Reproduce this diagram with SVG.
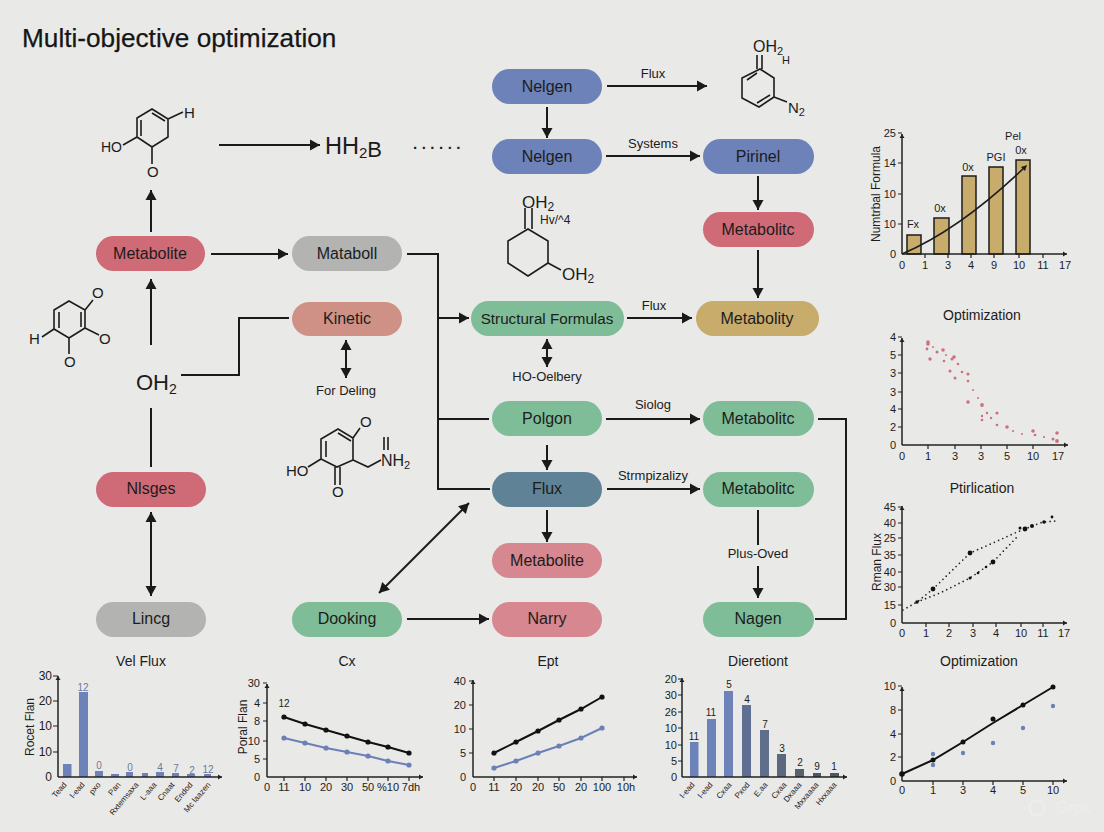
<svg xmlns="http://www.w3.org/2000/svg" width="1104" height="832" viewBox="0 0 1104 832">
<style>
text{font-family:"Liberation Sans",Arial,sans-serif;fill:#1c1c1c}
.n text{font-size:16px;text-anchor:middle}
.n rect{rx:17.5px;ry:17.5px}
.red{fill:#cf6b77}.gry{fill:#b3b3b2}.kin{fill:#cf9186}.blu{fill:#6c82b9}.grn{fill:#7fbd99}.tan{fill:#c8ac6c}.tea{fill:#5f8297}.pnk{fill:#d68790}
.c{fill:none;stroke:#1a1a1a;stroke-width:2}
.a{marker-end:url(#ah)}
.d{marker-end:url(#ah);marker-start:url(#ah)}
.lb{font-size:13px;text-anchor:middle}
.m{fill:none;stroke:#1c1c1c;stroke-width:1.6}
.mt{font-size:15px}
.ax{fill:none;stroke:#222;stroke-width:1.5;marker-end:url(#sa)}
.tk{fill:none;stroke:#222;stroke-width:1.2}
.tt{font-size:14px;text-anchor:middle}
.yl{font-size:11px;text-anchor:end}
.xl{font-size:11px;text-anchor:middle}
.vl{font-size:10px;text-anchor:middle}
.rl{font-size:8px;text-anchor:end}
.yt{font-size:12px;text-anchor:middle}
.k{fill:none;stroke:#111;stroke-width:2}
.b{fill:none;stroke:#6c80b8;stroke-width:2}
.kd{fill:#111}.bd{fill:#6c80b8}.rd{fill:#cf6f7e}
.bar{fill:#6c82b9}
.tb{fill:#c8ac6c;stroke:#1c1c1c;stroke-width:1.5}
.dot{fill:none;stroke:#222;stroke-width:1.7;stroke-dasharray:0 4.6;stroke-linecap:round}
.vb{fill:#6c78a0}
</style>
<defs>
<marker id="ah" markerUnits="userSpaceOnUse" markerWidth="11" markerHeight="12" refX="10" refY="6" orient="auto-start-reverse"><path d="M0,0.5 L10,6 L0,11.5 Z" fill="#1a1a1a"/></marker>
<marker id="sa" markerUnits="userSpaceOnUse" markerWidth="5" markerHeight="6" refX="4" refY="3" orient="auto"><path d="M0,0.5 L4,3 L0,5.5 Z" fill="#222"/></marker>
</defs>
<rect width="1104" height="832" fill="#e9e9e7"/>
<text x="22" y="47" font-size="26.2" style="fill:#161616;stroke:#161616;stroke-width:0.25">Multi-objective optimization</text>

<g id="connectors">
<path class="c a" d="M219,145H320"/>
<path class="c a" d="M151,232V190"/>
<path class="c a" d="M151,345V279"/>
<path class="c" d="M151,408V467"/>
<path class="c d" d="M151,512V596"/>
<path class="c a" d="M211,254H288"/>
<path class="c" d="M407,254H438V489H490"/>
<path class="c a" d="M438,318H469"/>
<path class="c" d="M438,419H489"/>
<path class="c" d="M181,375H239V318H289"/>
<path class="c d" d="M346,340V378"/>
<path class="c a" d="M607,86H707"/>
<path class="c a" d="M547,107V138"/>
<path class="c a" d="M606,156H700"/>
<path class="c a" d="M758,176V210"/>
<path class="c a" d="M758,250V298"/>
<path class="c a" d="M627,318H692"/>
<path class="c d" d="M547,339V367"/>
<path class="c a" d="M606,419H700"/>
<path class="c a" d="M547,445V470"/>
<path class="c a" d="M547,510V542"/>
<path class="c a" d="M607,489H700"/>
<path class="c" d="M758,510V545"/>
<path class="c a" d="M758,566V598"/>
<path class="c" d="M818,419H846V619H815"/>
<path class="c d" d="M379,593L469,503"/>
<path class="c a" d="M407,619H489"/>
<text class="lb" x="653" y="78">Flux</text>
<text class="lb" x="653" y="148">Systems</text>
<text class="lb" x="654" y="310">Flux</text>
<text class="lb" x="346" y="395">For Deling</text>
<text class="lb" x="547" y="381">HO-Oelbery</text>
<text class="lb" x="653" y="409">Siolog</text>
<text class="lb" x="653" y="480">Strmpizalizy</text>
<text class="lb" x="758" y="558">Plus-Oved</text>
</g>

<g id="n-metabolite1" class="n"><rect class="red" x="96" y="236" width="109" height="35"/><text x="150" y="259">Metabolite</text></g>
<g id="n-mataboll" class="n"><rect class="gry" x="292" y="236" width="110" height="35"/><text x="347" y="259">Mataboll</text></g>
<g id="n-kinetic" class="n"><rect class="kin" x="292" y="302" width="110" height="34"/><text x="347" y="324">Kinetic</text></g>
<g id="n-nelgen1" class="n"><rect class="blu" x="492" y="69" width="110" height="35"/><text x="547" y="92">Nelgen</text></g>
<g id="n-nelgen2" class="n"><rect class="blu" x="492" y="139" width="110" height="35"/><text x="547" y="162">Nelgen</text></g>
<g id="n-pirinel" class="n"><rect class="blu" x="703" y="139" width="111" height="35"/><text x="758" y="162">Pirinel</text></g>
<g id="n-metabolitc1" class="n"><rect class="red" x="703" y="212" width="111" height="35"/><text x="758" y="235">Metabolitc</text></g>
<g id="n-structural" class="n"><rect class="grn" x="471" y="301" width="153" height="35"/><text x="547" y="324" style="font-size:15.200px">Structural Formulas</text></g>
<g id="n-metabolity" class="n"><rect class="tan" x="696" y="301" width="123" height="35"/><text x="757" y="324">Metabolity</text></g>
<g id="n-polgon" class="n"><rect class="grn" x="492" y="401" width="110" height="35"/><text x="547" y="424">Polgon</text></g>
<g id="n-metabolitc2" class="n"><rect class="grn" x="703" y="401" width="111" height="35"/><text x="758" y="424">Metabolitc</text></g>
<g id="n-flux" class="n"><rect class="tea" x="492" y="472" width="110" height="35"/><text x="547" y="494">Flux</text></g>
<g id="n-metabolitc3" class="n"><rect class="grn" x="703" y="472" width="111" height="35"/><text x="758" y="494">Metabolitc</text></g>
<g id="n-metabolite2" class="n"><rect class="pnk" x="492" y="543" width="110" height="35"/><text x="547" y="566">Metabolite</text></g>
<g id="n-narry" class="n"><rect class="pnk" x="492" y="602" width="110" height="35"/><text x="547" y="624">Narry</text></g>
<g id="n-nagen" class="n"><rect class="grn" x="703" y="602" width="111" height="35"/><text x="758" y="624">Nagen</text></g>
<g id="n-dooking" class="n"><rect class="grn" x="292" y="602" width="110" height="35"/><text x="347" y="624">Dooking</text></g>
<g id="n-lincg" class="n"><rect class="gry" x="96" y="602" width="110" height="35"/><text x="151" y="624">Lincg</text></g>
<g id="n-nlsges" class="n"><rect class="red" x="96" y="472" width="110" height="35"/><text x="151" y="494">Nlsges</text></g>

<g id="mol-a">
<path class="m" d="M152,109L168,119V137L152,147L137,137V118ZM141,120V136M152,113L165,121M168,119L183,112M137,137L123,145M152,147V164"/>
<text class="mt" x="184" y="118">H</text><text class="mt" x="101" y="152" style="font-size:14px">HO</text><text class="mt" x="147" y="177">O</text>
<text x="325" y="154" font-size="23.500">HH<tspan font-size="15" dy="4">2</tspan><tspan dy="-1" font-size="22">B</tspan></text>
<text x="413" y="149" font-size="15" font-weight="bold" letter-spacing="4.500">......</text>
</g>
<g id="mol-b">
<path class="m" d="M69,301L85,310V328L69,338L54,329V310ZM59,312V328M81,312V327M85,310L93,300M85,328L99,335M69,338V354M54,329L42,337"/>
<text class="mt" x="92" y="298">O</text><text class="mt" x="99" y="344">O</text><text class="mt" x="64" y="367">O</text><text class="mt" x="29" y="344">H</text>
<text x="136" y="390" font-size="22">OH<tspan font-size="14" dy="4">2</tspan></text>
</g>
<g id="mol-c">
<path class="m" d="M760,69L774,78V97L759,107L742,98V78ZM757,55V69M762,55V69M747,80L757,73M757,103L770,95M774,97L787,102"/>
<text x="753" y="52" font-size="16">OH<tspan font-size="11" dy="3">2</tspan></text>
<text x="782" y="64" font-size="11">H</text>
<text x="788" y="113" font-size="15">N<tspan font-size="11" dy="3">2</tspan></text>
</g>
<g id="mol-d">
<path class="m" d="M528,229L548,241V263L528,276L508,263V241ZM525,208V229M532,208V229M548,263L561,270"/>
<text x="522" y="208" font-size="17">OH<tspan font-size="12" dy="3">2</tspan></text>
<text x="540" y="224" font-size="12">Hv/^4</text>
<text x="562" y="280" font-size="17">OH<tspan font-size="12" dy="3">2</tspan></text>
</g>
<g id="mol-e">
<path class="m" d="M338,429L353,438V460L337,467L321,459V439ZM326,441V457M338,433L351,441M353,438L360,428M321,459L308,467M335,467V485M340,467V485M353,460L368,467L381,460M384,437V450M388,437V450"/>
<text class="mt" x="360" y="427">O</text><text class="mt" x="286" y="476">HO</text><text class="mt" x="332" y="497">O</text>
<text x="381" y="466" font-size="16">NH<tspan font-size="11" dy="3">2</tspan></text>
</g>

<g id="chart-bars-top">
<path class="tb" d="M907,254V235H921V254ZM934,254V218H949V254ZM962,254V176H976V254ZM989,254V167H1003V254ZM1016,254V160H1030V254Z"/>
<path class="tk" d="M902,133H898M902,163H898M902,194H898M902,224H898M925,254V258M948,254V258M971,254V258M994,254V258M1019,254V258M1043,254V258"/>
<path class="ax" d="M902,254V134"/><path class="ax" d="M902,254H1067"/>
<path d="M902,254C935,240 975,215 1025,167" fill="none" stroke="#1c1c1c" stroke-width="1.6"/><path d="M1027,165l-2,6l-4,-4z" fill="#1c1c1c"/>
<g class="yl"><text x="896" y="137">25</text><text x="896" y="167">14</text><text x="896" y="198">10</text><text x="896" y="228">10</text><text x="896" y="258">0</text></g>
<g class="xl"><text x="902" y="269">0</text><text x="925" y="269">1</text><text x="948" y="269">3</text><text x="971" y="269">4</text><text x="994" y="269">9</text><text x="1019" y="269">10</text><text x="1043" y="269">11</text><text x="1065" y="269">17</text></g>
<g class="xl"><text x="913" y="228">Fx</text><text x="940" y="212">0x</text><text x="968" y="171">0x</text><text x="996" y="161">PGI</text><text x="1021" y="154">0x</text><text x="1013" y="140">Pel</text></g>
<text class="yt" transform="translate(880,194) rotate(-90)">Numtrbal Formula</text>
</g>

<g id="chart-scatter">
<text class="tt" x="982" y="320">Optimization</text>
<path class="tk" d="M902,337H898M902,355H898M902,373H898M902,392H898M902,409H898M902,427H898M928,445V449M955,445V449M981,445V449M1007,445V449M1033,445V449"/>
<path class="ax" d="M902,445V338"/><path class="ax" d="M902,445H1068"/>
<g class="yl"><text x="896" y="341">4</text><text x="896" y="359">5</text><text x="896" y="377">3</text><text x="896" y="396">3</text><text x="896" y="413">4</text><text x="896" y="431">2</text><text x="896" y="449">0</text></g>
<g class="xl"><text x="902" y="460">0</text><text x="928" y="460">1</text><text x="955" y="460">3</text><text x="981" y="460">3</text><text x="1007" y="460">5</text><text x="1033" y="460">10</text><text x="1058" y="460">17</text></g>
<g class="rd">
<circle cx="928" cy="342" r="1.8"/><circle cx="928" cy="344" r="1.8"/><circle cx="927" cy="349" r="1.4"/><circle cx="933" cy="347" r="1"/><circle cx="937" cy="352" r="1.5"/><circle cx="943" cy="350" r="1.8"/><circle cx="946" cy="355" r="1"/><circle cx="944" cy="361" r="1.3"/><circle cx="930" cy="359" r="1.7"/><circle cx="954" cy="357" r="1.8"/><circle cx="952" cy="359" r="1.5"/><circle cx="958" cy="364" r="1.3"/><circle cx="950" cy="371" r="1.5"/><circle cx="962" cy="372" r="1.3"/><circle cx="955" cy="378" r="1.5"/><circle cx="968" cy="374" r="1.6"/><circle cx="968" cy="381" r="1.3"/><circle cx="973" cy="390" r="1"/><circle cx="978" cy="398" r="1"/><circle cx="968" cy="402" r="1.8"/><circle cx="982" cy="405" r="1.9"/><circle cx="982" cy="416" r="1.2"/><circle cx="987" cy="413" r="1.2"/><circle cx="982" cy="420" r="1.3"/><circle cx="991" cy="418" r="1.2"/><circle cx="997" cy="413" r="1.6"/><circle cx="997" cy="425" r="1.3"/><circle cx="1007" cy="427" r="1.8"/><circle cx="1013" cy="431" r="1.1"/><circle cx="1022" cy="434" r="1"/><circle cx="1033" cy="431" r="1.8"/><circle cx="1035" cy="435" r="1.3"/><circle cx="1044" cy="437" r="1.1"/><circle cx="1057" cy="433" r="1.8"/><circle cx="1053" cy="439" r="1.5"/><circle cx="1057" cy="441" r="1.9"/>
</g>
</g>

<g id="chart-dotted">
<text class="tt" x="982" y="493">Ptirlication</text>
<path class="tk" d="M902,507H898M902,523H898M902,538H898M902,555H898M902,572H898M902,587H898M902,605H898M926,623V627M949,623V627M973,623V627M996,623V627M1021,623V627M1043,623V627"/>
<path class="ax" d="M902,623V506"/><path class="ax" d="M902,623H1067"/>
<g class="yl"><text x="896" y="511">45</text><text x="896" y="527">40</text><text x="896" y="542">25</text><text x="896" y="559">35</text><text x="896" y="576">40</text><text x="896" y="591">30</text><text x="896" y="609">15</text><text x="896" y="627">0</text></g>
<g class="xl"><text x="902" y="637">0</text><text x="926" y="637">1</text><text x="949" y="637">2</text><text x="973" y="637">3</text><text x="996" y="637">4</text><text x="1021" y="637">10</text><text x="1043" y="637">11</text><text x="1064" y="637">17</text></g>
<path class="dot" d="M903,610L917,602L933,589L970,553L993,543L1017,532L1025,529L1032,526L1043,522L1055,521"/>
<path class="dot" d="M917,602L940,593L970,578L993,562L1017,537"/>
<g class="kd"><circle cx="917" cy="602" r="1.8"/><circle cx="933" cy="589" r="2.4"/><circle cx="970" cy="553" r="2.4"/><circle cx="993" cy="562" r="2.4"/><circle cx="1025" cy="529" r="2.4"/><circle cx="1032" cy="526" r="2"/><circle cx="1044" cy="522" r="1.8"/><circle cx="970" cy="578" r="1.5"/><circle cx="978" cy="573" r="1.3"/><circle cx="986" cy="567" r="1.3"/><circle cx="1020" cy="528" r="1.5"/><circle cx="1052" cy="517" r="1.4"/></g>
<text class="yt" transform="translate(881,562) rotate(-90)">Rman Flux</text>
</g>

<g id="chart-line-right">
<text class="tt" x="979" y="666">Optimization</text>
<path class="tk" d="M902,686H898M902,710H898M902,734H898M902,757H898M933,781V785M963,781V785M993,781V785M1023,781V785M1053,781V785"/>
<path class="ax" d="M902,781V687"/><path class="ax" d="M902,781H1067"/>
<g class="yl"><text x="896" y="690">10</text><text x="896" y="714">8</text><text x="896" y="738">4</text><text x="896" y="761">2</text><text x="896" y="785">0</text></g>
<g class="xl"><text x="902" y="794">0</text><text x="933" y="794">1</text><text x="963" y="794">3</text><text x="993" y="794">4</text><text x="1023" y="794">5</text><text x="1053" y="794">10</text></g>
<path class="k" d="M902,774L933,760L963,742L993,723L1023,705L1053,687"/>
<g class="bd"><circle cx="933" cy="754" r="2.2"/><circle cx="933" cy="765" r="2.2"/><circle cx="963" cy="753" r="2.2"/><circle cx="993" cy="743" r="2.2"/><circle cx="1023" cy="728" r="2.2"/><circle cx="1053" cy="706" r="2.2"/></g>
<g class="kd"><circle cx="902" cy="774" r="2.8"/><circle cx="933" cy="760" r="2.5"/><circle cx="963" cy="742" r="2.5"/><circle cx="993" cy="719" r="2.5"/><circle cx="1023" cy="705" r="2.5"/><circle cx="1053" cy="687" r="2.5"/></g>
</g>

<g id="chart-velflux">
<text class="tt" x="141" y="666">Vel Flux</text>
<g class="bar"><rect x="63" y="764" width="8.500" height="13"/><rect x="79" y="692" width="9" height="85"/><rect x="95" y="771" width="8" height="6"/><rect x="111" y="774" width="8" height="3"/><rect x="126" y="772" width="7" height="5"/><rect x="142" y="773" width="6" height="4"/><rect x="156" y="772" width="8" height="5"/><rect x="172" y="773" width="7" height="4"/><rect x="187" y="774" width="8" height="3"/><rect x="204" y="774" width="7" height="3"/></g>
<path class="tk" d="M58,676H53M58,701H53M58,726H53M58,752H53"/>
<path class="ax" d="M58,777V676"/><path class="ax" d="M58,777H222"/>
<g class="yl" style="font-size:12px"><text x="52" y="680">30</text><text x="52" y="705">20</text><text x="52" y="730">10</text><text x="52" y="756">10</text><text x="52" y="781">0</text></g>
<g class="vl"><text class="vb" x="83" y="691">12</text><text class="vb" x="99" y="769">0</text><text class="vb" x="130" y="771">0</text><text class="vb" x="160" y="771">4</text><text class="vb" x="176" y="772">7</text><text class="vb" x="192" y="774">2</text><text class="vb" x="208" y="773">12</text></g>
<g class="rl"><text transform="translate(67,785) rotate(-50)">Tead</text><text transform="translate(85,785) rotate(-50)">l-ead</text><text transform="translate(101,785) rotate(-50)">pxo</text><text transform="translate(121,785) rotate(-50)">Pan</text><text transform="translate(139,785) rotate(-50)">Rxtemsaxa</text><text transform="translate(157,785) rotate(-50)">L-aaa</text><text transform="translate(175,785) rotate(-50)">Cnaat</text><text transform="translate(193,785) rotate(-50)">Endod</text><text transform="translate(211,785) rotate(-50)">Mc laazen</text></g>
<text class="yt" transform="translate(34,727) rotate(-90)">Rocet Flan</text>
</g>

<g id="chart-cx">
<text class="tt" x="347" y="666">Cx</text>
<path class="tk" d="M267,683H263M267,703H263M267,721H263M267,741H263M267,759H263M284,777V781M305,777V781M326,777V781M347,777V781M368,777V781M388,777V781M409,777V781"/>
<path class="ax" d="M267,777V684"/><path class="ax" d="M267,777H423"/>
<g class="yl"><text x="260" y="687">30</text><text x="260" y="707">4</text><text x="260" y="725">8</text><text x="260" y="745">10</text><text x="260" y="763">5</text><text x="260" y="781">0</text></g>
<g class="xl"><text x="267" y="791">0</text><text x="284" y="791">11</text><text x="305" y="791">10</text><text x="326" y="791">20</text><text x="347" y="791">30</text><text x="368" y="791">50</text><text x="388" y="791">%10</text><text x="411" y="791">7dh</text></g>
<text class="vl" x="284" y="707">12</text>
<path class="k" d="M284,717L305,724L326,730L347,736L368,742L388,747L409,753"/>
<path class="b" d="M284,738L305,743L326,748L347,752L368,756L388,761L409,765"/>
<g class="kd"><circle cx="284" cy="717" r="2.6"/><circle cx="305" cy="724" r="2.6"/><circle cx="326" cy="730" r="2.6"/><circle cx="347" cy="736" r="2.6"/><circle cx="368" cy="742" r="2.6"/><circle cx="388" cy="747" r="2.6"/><circle cx="409" cy="753" r="2.6"/></g>
<g class="bd"><circle cx="284" cy="738" r="2.6"/><circle cx="305" cy="743" r="2.6"/><circle cx="326" cy="748" r="2.6"/><circle cx="347" cy="752" r="2.6"/><circle cx="368" cy="756" r="2.6"/><circle cx="388" cy="761" r="2.6"/><circle cx="409" cy="765" r="2.6"/></g>
<text class="yt" transform="translate(247,727) rotate(-90)">Poral Flan</text>
</g>

<g id="chart-ept">
<text class="tt" x="548" y="666">Ept</text>
<path class="tk" d="M473,681H469M473,705H469M473,729H469M473,753H469M494,777V781M516,777V781M538,777V781M559,777V781M581,777V781M602,777V781M624,777V781"/>
<path class="ax" d="M473,777V680"/><path class="ax" d="M473,777H637"/>
<g class="yl"><text x="466" y="685">40</text><text x="466" y="709">20</text><text x="466" y="733">10</text><text x="466" y="757">5</text><text x="466" y="781">0</text></g>
<g class="xl"><text x="473" y="791">0</text><text x="494" y="791">11</text><text x="516" y="791">20</text><text x="538" y="791">20</text><text x="559" y="791">50</text><text x="581" y="791">20</text><text x="602" y="791">100</text><text x="626" y="791">10h</text></g>
<path class="k" d="M494,753L516,742L538,731L559,720L581,709L602,697"/>
<path class="b" d="M494,768L516,761L538,753L559,746L581,738L602,728"/>
<g class="kd"><circle cx="494" cy="753" r="2.6"/><circle cx="516" cy="742" r="2.6"/><circle cx="538" cy="731" r="2.6"/><circle cx="559" cy="720" r="2.6"/><circle cx="581" cy="709" r="2.6"/><circle cx="602" cy="697" r="2.6"/></g>
<g class="bd"><circle cx="494" cy="768" r="2.6"/><circle cx="516" cy="761" r="2.6"/><circle cx="538" cy="753" r="2.6"/><circle cx="559" cy="746" r="2.6"/><circle cx="581" cy="738" r="2.6"/><circle cx="602" cy="728" r="2.6"/></g>
</g>

<g id="chart-dieretiont">
<text class="tt" x="758" y="666">Dieretiont</text>
<rect class="bar" x="690" y="742" width="8.500" height="35"/><rect class="bar" x="707" y="719" width="9" height="58"/><rect class="bar" x="724" y="691" width="9" height="86"/>
<rect x="742" y="705" width="9" height="72" fill="#5f6f93"/><rect x="760" y="730" width="9" height="47" fill="#5f6e8a"/><rect x="777" y="754" width="9" height="23" fill="#5b6880"/><rect x="795" y="769" width="9" height="8" fill="#56606f"/><rect x="813" y="773" width="8" height="4" fill="#4f5665"/><rect x="830" y="773" width="9" height="4" fill="#4f5665"/>
<path class="tk" d="M682,679H678M682,695H678M682,712H678M682,728H678M682,745H678M682,761H678"/>
<path class="ax" d="M682,777V678"/><path class="ax" d="M682,777H847"/>
<g class="yl"><text x="677" y="683">20</text><text x="677" y="699">30</text><text x="677" y="716">26</text><text x="677" y="732">10</text><text x="677" y="749">10</text><text x="677" y="765">5</text><text x="677" y="781">0</text></g>
<g class="vl"><text x="694" y="740">11</text><text x="711" y="716">11</text><text x="729" y="688">5</text><text x="747" y="703">4</text><text x="765" y="728">7</text><text x="782" y="752">3</text><text x="800" y="766">2</text><text x="817" y="770">9</text><text x="834" y="770">1</text></g>
<g class="rl"><text transform="translate(695,785) rotate(-50)">l-ead</text><text transform="translate(713,785) rotate(-50)">l-ead</text><text transform="translate(732,785) rotate(-50)">Cxaa</text><text transform="translate(750,785) rotate(-50)">Pxod</text><text transform="translate(768,785) rotate(-50)">E.aa</text><text transform="translate(787,785) rotate(-50)">Cxaa</text><text transform="translate(802,785) rotate(-50)">Dxaaa</text><text transform="translate(819,785) rotate(-50)">Mxxaaaa</text><text transform="translate(837,785) rotate(-50)">Hxxaaa</text></g>
</g>
<g id="watermark"><circle cx="1037" cy="808" r="7.500" fill="none" stroke="#eeeeec" stroke-width="2"/><text x="1056" y="813" font-size="16" style="fill:#eeeeec">Grok</text></g>
</svg>
